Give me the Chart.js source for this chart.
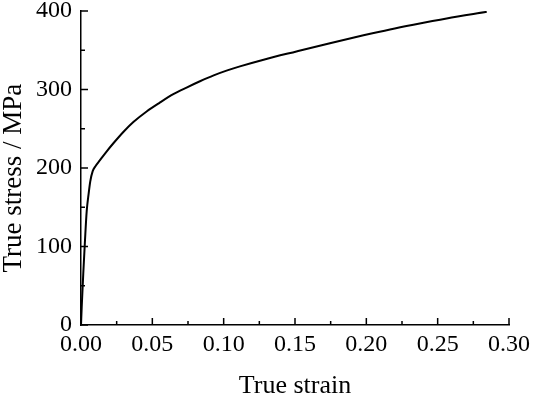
<!DOCTYPE html>
<html>
<head>
<meta charset="utf-8">
<script src="https://cdn.jsdelivr.net/npm/chart.js@4/dist/chart.umd.min.js"></script>
<style>
  html, body { margin: 0; padding: 0; background: #fff; }
  #wrap { width: 533px; height: 399px; }
</style>
</head>
<body>
<div id="wrap"><canvas id="chart"></canvas></div>
<script>
// values
const strain = [0, 0.0005, 0.0016, 0.0028, 0.004, 0.0054, 0.0065, 0.0082, 0.0100, 0.0133,
  0.0175, 0.0227, 0.030, 0.0367, 0.046, 0.055, 0.0647, 0.0740, 0.0834, 0.093,
  0.102, 0.1114, 0.128, 0.151, 0.1745, 0.198, 0.2166, 0.233, 0.2563, 0.2844];
const stress = [0, 23, 66, 108, 145, 168, 183, 196, 202, 210,
  220, 231.5, 246.5, 258.5, 272, 283, 294, 302.5, 310.5, 318,
  324, 329.5, 338, 348.5, 359, 369, 376.5, 382.5, 390.5, 399];

const xTicks = [0, 0.05, 0.10, 0.15, 0.20, 0.25, 0.30];
const xMinor = [0.025, 0.075, 0.125, 0.175, 0.225, 0.275];
const yTicks = [0, 100, 200, 300, 400];
const yMinor = [50, 150, 250, 350];

const serif = "'Liberation Serif', 'Times New Roman', serif";

// ticks point inward, so draw them from the scales after the chart
const inwardTicks = {
  id: 'inwardTicks',
  afterDraw(chart) {
    const ctx = chart.ctx;
    const x = chart.scales.x, y = chart.scales.y;
    ctx.save();
    ctx.strokeStyle = '#000';
    ctx.lineWidth = 1.5;
    ctx.beginPath();
    const bottom = y.getPixelForValue(0);
    const left = x.getPixelForValue(0);
    xTicks.forEach(v => { const px = x.getPixelForValue(v); ctx.moveTo(px, bottom); ctx.lineTo(px, bottom - 7); });
    xMinor.forEach(v => { const px = x.getPixelForValue(v); ctx.moveTo(px, bottom); ctx.lineTo(px, bottom - 4); });
    yTicks.forEach(v => { const py = y.getPixelForValue(v); ctx.moveTo(left, py); ctx.lineTo(left + 7, py); });
    yMinor.forEach(v => { const py = y.getPixelForValue(v); ctx.moveTo(left, py); ctx.lineTo(left + 4, py); });
    ctx.stroke();
    ctx.restore();
  }
};

new Chart(document.getElementById('chart'), {
  type: 'line',
  data: {
    datasets: [{
      data: strain.map((s, i) => ({ x: s, y: stress[i] })),
      borderColor: '#000',
      borderWidth: 2,
      pointRadius: 0,
      cubicInterpolationMode: 'monotone',
      fill: false
    }]
  },
  options: {
    responsive: true,
    maintainAspectRatio: false,
    animation: false,
    layout: { padding: { top: 11, right: 24, left: 0, bottom: 0 } },
    plugins: { legend: { display: false }, tooltip: { enabled: false } },
    scales: {
      x: {
        type: 'linear',
        min: 0, max: 0.30,
        afterBuildTicks: s => { s.ticks = xTicks.map(v => ({ value: v })); },
        afterFit: s => { s.height = 74; s.paddingLeft = 0; s.paddingRight = 0; },
        grid: { display: false, drawTicks: false },
        border: { display: true, color: '#000', width: 1.5 },
        ticks: {
          color: '#000', padding: 5, maxRotation: 0,
          font: { family: serif, size: 24 },
          callback: v => v.toFixed(2)
        },
        title: {
          display: true, text: 'True strain', color: '#000', padding: 0,
          font: { family: serif, size: 26, lineHeight: 1.0 }
        }
      },
      y: {
        type: 'linear',
        min: 0, max: 400,
        afterBuildTicks: s => { s.ticks = yTicks.map(v => ({ value: v })); },
        afterFit: s => { s.width = 81; s.paddingTop = 0; s.paddingBottom = 0; },
        grid: { display: false, drawTicks: false },
        border: { display: true, color: '#000', width: 1.5 },
        ticks: {
          color: '#000', padding: 9,
          font: { family: serif, size: 24 }
        },
        title: {
          display: true, text: 'True stress / MPa\u00a0\u00a0\u00a0', color: '#000', padding: 0,
          font: { family: serif, size: 27, lineHeight: 1.0 }
        }
      }
    }
  },
  plugins: [inwardTicks]
});
</script>
</body>
</html>
